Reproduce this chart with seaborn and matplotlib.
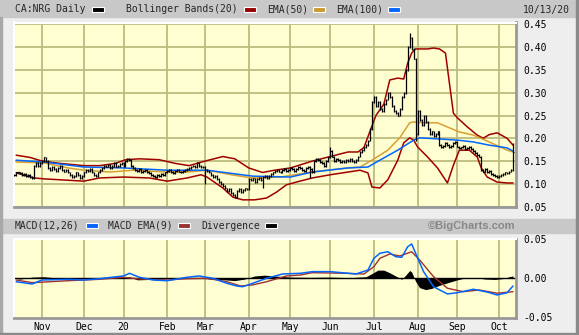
import numpy as np
import pandas as pd
import matplotlib
matplotlib.use("Agg")
import matplotlib.pyplot as plt
from matplotlib.patches import Rectangle
import seaborn as sns

# ---------------- data ----------------
holidays = ['2019-10-14', '2019-12-25', '2019-12-26', '2020-01-01', '2020-02-17',
            '2020-04-10', '2020-05-18', '2020-07-01', '2020-08-03', '2020-09-07',
            '2020-10-12']
dates = pd.bdate_range('2019-10-11', '2020-10-13', freq='C', holidays=holidays)
month_labels = ["Nov", "Dec", "20", "Feb", "Mar", "Apr", "May", "Jun", "Jul", "Aug", "Sep", "Oct"]

close = [0.120, 0.125, 0.125, 0.123, 0.120, 0.122, 0.118, 0.120, 0.115, 0.113,
         0.140, 0.145, 0.140, 0.145,
         0.150, 0.158, 0.150,
         0.135, 0.130, 0.138, 0.132, 0.128, 0.135, 0.140, 0.130, 0.127, 0.130,
         0.125, 0.120, 0.115, 0.118, 0.125, 0.120, 0.113, 0.118,
         0.125, 0.130, 0.128, 0.133, 0.125, 0.120, 0.118, 0.125,
         0.130, 0.135, 0.140, 0.138, 0.142, 0.135, 0.140, 0.145, 0.138, 0.140, 0.143, 0.145, 0.140,
         0.150, 0.155, 0.152,
         0.140, 0.135, 0.130, 0.128, 0.132, 0.125, 0.128, 0.130, 0.126, 0.124,
         0.120, 0.118, 0.115, 0.120, 0.117, 0.122,
         0.119, 0.125, 0.128, 0.130, 0.126, 0.124, 0.128, 0.130, 0.127, 0.125, 0.129, 0.131,
         0.133, 0.135, 0.138, 0.140, 0.137, 0.145, 0.140, 0.136, 0.138,
         0.130,
         0.128, 0.125, 0.120, 0.115, 0.118, 0.110, 0.105, 0.100, 0.095, 0.090, 0.085, 0.088,
         0.080, 0.075, 0.072,
         0.085, 0.088, 0.083, 0.087, 0.090, 0.088,
         0.110, 0.108, 0.112, 0.105, 0.110, 0.113, 0.108,
         0.115, 0.118, 0.113, 0.117,
         0.122, 0.125, 0.128, 0.130, 0.127, 0.125, 0.130, 0.132, 0.128,
         0.130, 0.135, 0.133, 0.128, 0.132, 0.138, 0.135, 0.130, 0.128, 0.135, 0.138, 0.132, 0.125,
         0.150, 0.155, 0.152, 0.148, 0.145, 0.140, 0.150,
         0.158, 0.172, 0.160,
         0.150, 0.155, 0.152, 0.148, 0.150, 0.147, 0.152, 0.150, 0.155, 0.150, 0.148, 0.152,
         0.160, 0.170, 0.175, 0.180, 0.185, 0.195,
         0.220, 0.280,
         0.290, 0.270, 0.280, 0.265, 0.260, 0.275, 0.285, 0.300, 0.290, 0.270, 0.260, 0.255, 0.250,
         0.265, 0.290, 0.300,
         0.350, 0.400, 0.420,
         0.395, 0.375,
         0.210,
         0.260, 0.240, 0.230, 0.250, 0.235,
         0.220, 0.210, 0.215, 0.205, 0.210, 0.215,
         0.185, 0.180, 0.183, 0.190, 0.185, 0.180, 0.183,
         0.190, 0.192,
         0.182, 0.178, 0.180, 0.183, 0.176, 0.179, 0.181, 0.177,
         0.172, 0.168, 0.163, 0.160,
         0.130, 0.127, 0.133,
         0.125, 0.128, 0.122, 0.120, 0.118, 0.115, 0.118, 0.120, 0.122, 0.125, 0.123, 0.127,
         0.130, 0.170]

# intraday extremes (wicks) visible in the reference
spike_day = [15, 57, 96, 125, 149, 159, 199, 202, 251]
spike_px = [0.160, 0.157, 0.100, 0.090, 0.113, 0.180, 0.430, 0.195, 0.190]

# Bollinger Bands(20)
ub_day = [1, 8, 14, 23, 35, 43, 51, 56, 63, 73, 81, 88, 96, 105, 111, 118, 125, 131, 139, 150,
          159, 168, 173, 176, 179, 182, 186, 189, 193, 196, 198, 200, 202, 208, 211, 214, 217,
          219, 221, 223, 228, 233, 236, 239, 243, 248, 251]
ub_val = [0.163, 0.158, 0.150, 0.145, 0.140, 0.140, 0.145, 0.153, 0.155, 0.153, 0.145, 0.140,
          0.150, 0.160, 0.155, 0.135, 0.125, 0.130, 0.135, 0.150, 0.160, 0.170, 0.170, 0.180,
          0.215, 0.250, 0.275, 0.328, 0.332, 0.330, 0.365, 0.387, 0.396, 0.396, 0.398, 0.396,
          0.387, 0.321, 0.255, 0.245, 0.225, 0.207, 0.200, 0.208, 0.212, 0.200, 0.185]
lb_day = [1, 10, 15, 27, 35, 43, 55, 68, 77, 87, 94, 97, 105, 110, 115, 121, 127, 132, 137, 142,
          150, 159, 168, 174, 178, 180, 184, 188, 193, 196, 199, 201, 203, 208, 213, 218, 221,
          224, 229, 233, 235, 238, 243, 248, 251]
lb_val = [0.124, 0.113, 0.111, 0.108, 0.106, 0.113, 0.115, 0.113, 0.106, 0.113, 0.120, 0.115,
          0.091, 0.071, 0.065, 0.065, 0.069, 0.082, 0.098, 0.104, 0.113, 0.120, 0.126, 0.130,
          0.124, 0.093, 0.091, 0.109, 0.152, 0.190, 0.201, 0.196, 0.181, 0.159, 0.135, 0.102,
          0.141, 0.174, 0.174, 0.159, 0.135, 0.115, 0.104, 0.102, 0.102]

# EMA(50) and EMA(100)
e50_day = [1, 15, 27, 35, 48, 60, 77, 87, 97, 110, 120, 134, 150, 168, 174, 180, 188, 194, 199,
           201, 206, 213, 219, 224, 231, 239, 248, 251]
e50_val = [0.148, 0.146, 0.135, 0.130, 0.126, 0.130, 0.126, 0.126, 0.130, 0.1195, 0.113, 0.115,
           0.126, 0.135, 0.137, 0.152, 0.174, 0.201, 0.234, 0.236, 0.234, 0.234, 0.223, 0.214,
           0.207, 0.192, 0.174, 0.170]
e100_day = [1, 15, 35, 55, 77, 97, 120, 139, 150, 168, 178, 184, 193, 201, 204, 214, 223, 231,
            239, 248, 251]
e100_val = [0.152, 0.148, 0.137, 0.135, 0.130, 0.130, 0.117, 0.115, 0.126, 0.135, 0.137, 0.152,
            0.174, 0.196, 0.201, 0.1985, 0.196, 0.192, 0.185, 0.179, 0.172]

# MACD(12,26), MACD EMA(9), Divergence
macd_day = [1, 9, 14, 27, 35, 43, 55, 58, 63, 70, 77, 87, 93, 100, 107, 112, 115, 120, 127, 135,
            144, 150, 159, 172, 178, 181, 184, 188, 192, 195, 198, 200, 202, 206, 211, 218, 223,
            231, 238, 243, 248, 251]
macd_val = [-0.0044, -0.0073, -0.0022, -0.0013, -0.0022, -0.0005, 0.0030, 0.0064, 0.0013,
            -0.0022, -0.0031, 0.0013, 0.0030, 0.0, -0.0064, -0.0099, -0.0108, -0.0064, 0.0,
            0.0055, 0.0064, 0.0085, 0.0085, 0.0055, 0.0106, 0.0256, 0.0321, 0.0341, 0.0277,
            0.0269, 0.0405, 0.0440, 0.0321, 0.0085, -0.0108, -0.0201, -0.0185, -0.0141,
            -0.0176, -0.0214, -0.0185, -0.0099]
sig_day = [1, 9, 18, 27, 43, 55, 63, 77, 87, 97, 107, 114, 120, 127, 137, 144, 150, 167, 176,
           181, 184, 189, 194, 200, 204, 211, 218, 226, 234, 243, 251]
sig_val = [-0.0022, -0.0056, -0.0044, -0.0031, -0.0013, 0.0013, -0.0009, -0.0022, -0.0005, 0.0,
           -0.0044, -0.0099, -0.0085, -0.0044, 0.0030, 0.0042, 0.0072, 0.0064, 0.0055, 0.0149,
           0.0256, 0.0312, 0.0286, 0.0341, 0.0235, 0.0021, -0.0128, -0.0172, -0.0150, -0.0192,
           -0.0172]
div_day = [0, 3, 9, 15, 21, 28, 36, 43, 53, 58, 62, 68, 76, 83, 91, 99, 106, 111, 116, 121, 126,
           131, 139, 149, 159, 169, 177, 180, 183, 186, 189, 193, 195, 197, 199, 200, 202, 204,
           207, 210, 214, 219, 223, 227, 232, 237, 242, 247, 249, 251]
div_val = [0.0, -0.001, 0.0015, 0.002, 0.0005, -0.0005, 0.0003, 0.0008, 0.002, 0.002, -0.002,
           -0.0015, -0.0005, 0.001, 0.001, -0.001, -0.002, -0.003, -0.001, 0.003, 0.004, 0.003,
           0.0015, 0.0012, 0.0015, 0.0008, 0.002, 0.006, 0.0105, 0.0105, 0.007, 0.0015, -0.0013,
           0.004, 0.010, 0.008, -0.004, -0.012, -0.0145, -0.013, -0.009, -0.005, -0.002, 0.0005,
           0.001, -0.001, -0.0015, 0.0, 0.002, 0.003]

main_ticks = [0.05, 0.10, 0.15, 0.20, 0.25, 0.30, 0.35, 0.40, 0.45]
macd_ticks = [-0.05, 0.00, 0.05]

# ---------------- styling ----------------
sns.set_theme(style="white")
plt.rcParams['font.family'] = ['DejaVu Sans Mono', 'DejaVu Sans']

W, H = 579, 335
fig = plt.figure(figsize=(W / 100, H / 100), dpi=100)
fig.patch.set_facecolor('#eeeeee')

def fx(px):
    return px / W

def fy(py):
    return 1 - py / H

BG = '#fefed0'
GRID = '#bcbc80'
RED = '#a00000'
GOLD = '#d9a030'
BLUE = '#0066ff'
SIGRED = '#a03030'

ax = fig.add_axes([fx(14), fy(207), fx(502), (207 - 22.5) / H])
ax2 = fig.add_axes([fx(14), fy(317.5), fx(502), (317.5 - 239) / H])

n = len(close)
idx = np.arange(n)
df = pd.DataFrame({'date': dates[:n], 'i': idx, 'close': close})
month_pos = [i for i in range(1, n) if df['date'][i].month != df['date'][i - 1].month]

for a in (ax, ax2):
    a.set_facecolor(BG)
    a.set_xlim(-0.1, 252.5)
    a.vlines(month_pos, 0, 1, transform=a.get_xaxis_transform(), colors=GRID,
             lw=1.3, zorder=1)
    a.spines['top'].set_color('white')
    a.spines['left'].set_color('white')
    a.spines['bottom'].set_color('#999999')
    a.spines['right'].set_color('#999999')
    a.spines['bottom'].set_linewidth(2)
    a.spines['right'].set_linewidth(2)
    a.spines['top'].set_linewidth(1.5)
    a.spines['left'].set_linewidth(1.5)
    a.yaxis.tick_right()
    a.tick_params(axis='y', length=0, pad=5, labelsize=7, colors='black')
    a.tick_params(axis='x', length=0, pad=3, labelsize=7, colors='black')

# main panel
ax.set_ylim(0.0493, 0.454)
ax.hlines(main_ticks, 0, 1, transform=ax.get_yaxis_transform(), colors=GRID, lw=1.3, zorder=1)
ax.set_yticks(main_ticks)
ax.set_yticklabels([f"{v:.2f}" for v in main_ticks])
for lab in ax.get_yticklabels():
    lab.set_horizontalalignment('left')
ax.set_xticks([])

# price bars (HLC style)
prev = [close[0]] + close[:-1]
lo = [min(p, c) - 0.002 for p, c in zip(prev, close)]
hi = [max(p, c) + 0.002 for p, c in zip(prev, close)]
for d, s in zip(spike_day, spike_px):
    lo[d] = min(lo[d], s)
    hi[d] = max(hi[d], s)
ax.vlines(idx, lo, hi, color='black', lw=0.9, zorder=5)
ax.hlines(close, idx, idx + 0.7, color='black', lw=0.9, zorder=5)

sns.lineplot(x=ub_day, y=ub_val, ax=ax, color=RED, lw=1.1, zorder=3)
sns.lineplot(x=lb_day, y=lb_val, ax=ax, color=RED, lw=1.1, zorder=3)
sns.lineplot(x=e50_day, y=e50_val, ax=ax, color=GOLD, lw=1.1, zorder=4)
sns.lineplot(x=e100_day, y=e100_val, ax=ax, color=BLUE, lw=1.1, zorder=4)
ax.set_xlabel('')
ax.set_ylabel('')

# MACD panel
ax2.set_ylim(-0.0503, 0.0504)
ax2.axhline(0, color='black', lw=1.0, zorder=2)
ax2.fill_between(div_day, 0, div_val, color='black', lw=0, zorder=3)
sns.lineplot(x=sig_day, y=sig_val, ax=ax2, color=SIGRED, lw=1.0, zorder=4)
sns.lineplot(x=macd_day, y=macd_val, ax=ax2, color=BLUE, lw=1.1, zorder=5)
ax2.set_yticks(macd_ticks)
ax2.set_yticklabels(["-0.05", "0.00", "0.05"])
for lab in ax2.get_yticklabels():
    lab.set_horizontalalignment('left')
ax2.set_xticks(month_pos)
ax2.set_xticklabels(month_labels)
ax2.set_xlabel('')
ax2.set_ylabel('')

# header strips and borders
fig.add_artist(Rectangle((0, fy(17)), 1, 17 / H, transform=fig.transFigure,
                         color='#c8c8c8', zorder=0))
fig.add_artist(Rectangle((0, fy(232.5)), 1, 13.5 / H, transform=fig.transFigure,
                         color='#c8c8c8', zorder=0))
fig.add_artist(Rectangle((0, 0), fx(2), fy(17), transform=fig.transFigure,
                         color='#a8a8a8', zorder=1))
fig.add_artist(Rectangle((fx(576), 0), fx(3), 1, transform=fig.transFigure,
                         color='#8a8a8a', zorder=1))
fig.add_artist(Rectangle((0, 0), 1, 2.5 / H, transform=fig.transFigure,
                         color='#8a8a8a', zorder=1))

def swatch(x0, yc, color):
    fig.add_artist(Rectangle((fx(x0), fy(yc + 2.5)), fx(12), 5 / H, transform=fig.transFigure,
                             facecolor=color, edgecolor='white', lw=0.8, zorder=2))

ty = fy(9.5)
fig.text(fx(15), ty, "CA:NRG Daily", fontsize=7, va='center', ha='left')
swatch(92, 9.5, 'black')
fig.text(fx(126), ty, "Bollinger Bands(20)", fontsize=7, va='center', ha='left')
swatch(244, 9.5, '#990000')
fig.text(fx(267), ty, "EMA(50)", fontsize=7, va='center', ha='left')
swatch(313, 9.5, '#cc9933')
fig.text(fx(336), ty, "EMA(100)", fontsize=7, va='center', ha='left')
swatch(388, 9.5, BLUE)
fig.text(fx(523), ty, "10/13/20", fontsize=7, va='center', ha='left')

my = fy(225.8)
fig.text(fx(15), my, "MACD(12,26)", fontsize=7, va='center', ha='left')
swatch(86, 225.8, BLUE)
fig.text(fx(108), my, "MACD EMA(9)", fontsize=7, va='center', ha='left')
swatch(178, 225.8, '#993333')
fig.text(fx(201), my, "Divergence", fontsize=7, va='center', ha='left')
swatch(265, 225.8, 'black')
fig.text(fx(516), my, "\u00a9BigCharts.com", fontsize=8, va='center', ha='right',
         color='#888888', fontweight='bold', family=['Liberation Sans', 'DejaVu Sans'])

fig.savefig("out.png", dpi=100, facecolor=fig.get_facecolor())
